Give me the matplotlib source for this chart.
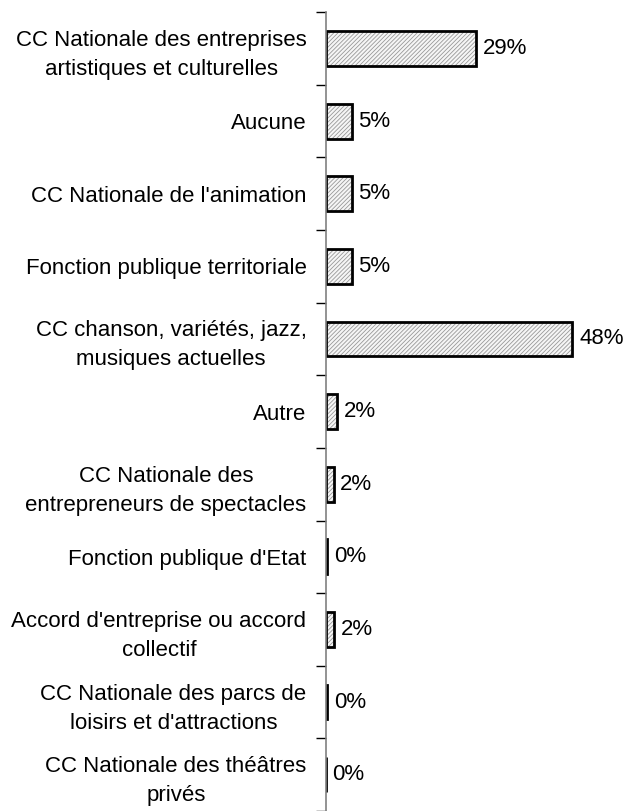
import matplotlib.pyplot as plt
import numpy as np

plt.rcParams['font.family'] = ['Liberation Sans', 'DejaVu Sans']

categories = [
    "CC Nationale des entreprises\nartistiques et culturelles",
    "Aucune",
    "CC Nationale de l'animation",
    "Fonction publique territoriale",
    "CC chanson, variétés, jazz,\nmusiques actuelles",
    "Autre",
    "CC Nationale des\nentrepreneurs de spectacles",
    "Fonction publique d'Etat",
    "Accord d'entreprise ou accord\ncollectif",
    "CC Nationale des parcs de\nloisirs et d'attractions",
    "CC Nationale des théâtres\nprivés",
]
values = [29.3, 5.0, 5.0, 5.0, 48.0, 2.2, 1.5, 0.3, 1.6, 0.3, 0.0]

fig = plt.figure(figsize=(6.23, 8.11), dpi=100)
ax = fig.add_axes([0.523, 0.0, 0.47, 0.985])

n = len(categories)
y = np.arange(n)
plt.rcParams['hatch.linewidth'] = 0.6
# hatched fill, then black outline on top
ax.barh(y, values, height=0.48, color='#f6f6f6', edgecolor='#999999',
        hatch='////////', linewidth=0)
ax.barh(y, values, height=0.48, color='none', edgecolor='black', linewidth=2)

for yi, v in zip(y, values):
    ax.text(v + 1.3, yi, f'{v:.0f}%', va='center', ha='left', fontsize=16)

ax.set_ylim(n - 0.5, -0.5)
ax.set_xlim(0, 57)
ax.set_yticks(y)
ax.set_yticklabels(categories, fontsize=16, multialignment='center', linespacing=1.5)
ax.tick_params(axis='y', which='major', length=0, pad=14)
ax.set_yticks(np.arange(n + 1) - 0.5, minor=True)
ax.tick_params(axis='y', which='minor', length=7, width=1, color='black')
ax.set_xticks([])
for s in ['top', 'right', 'bottom']:
    ax.spines[s].set_visible(False)
ax.spines['left'].set_color('#808080')
ax.spines['left'].set_linewidth(1.2)

plt.savefig('out.png', dpi=100)
